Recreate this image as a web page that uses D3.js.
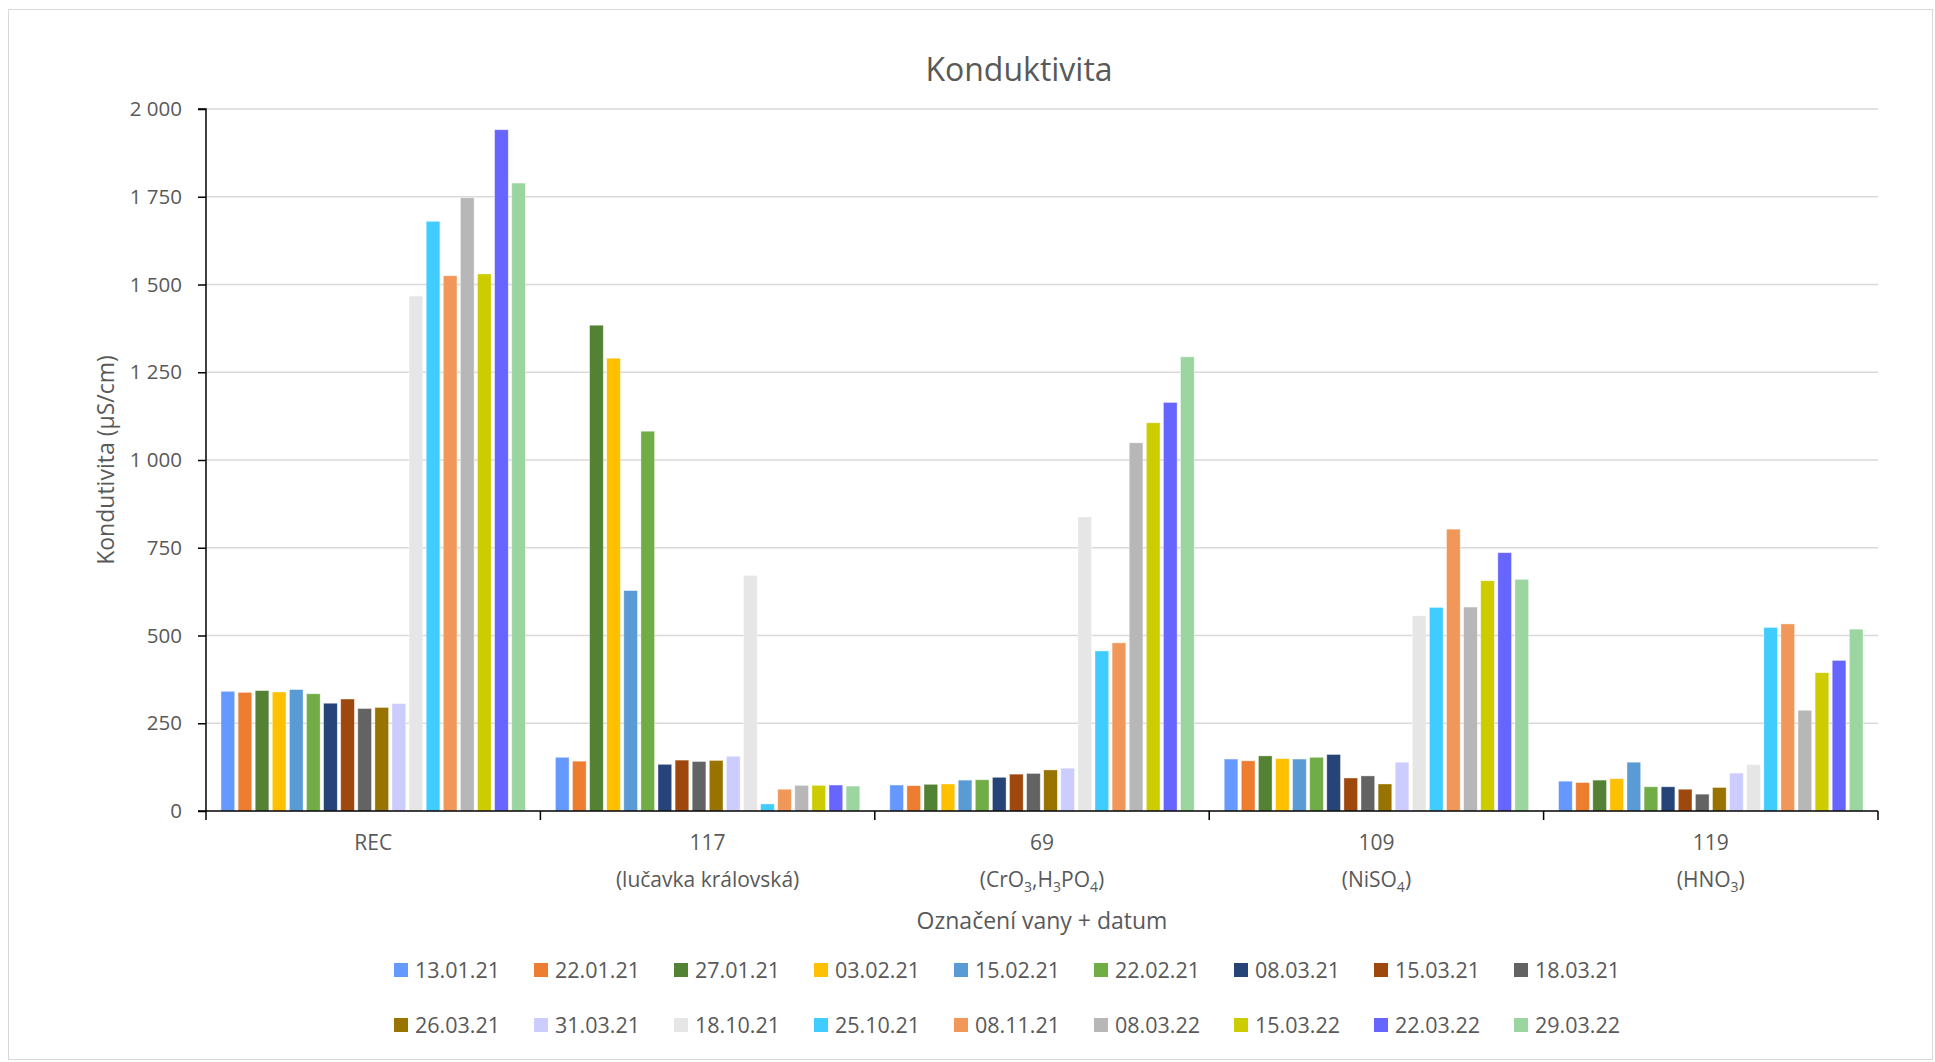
<!DOCTYPE html>
<html>
<head>
<meta charset="utf-8">
<script src="https://cdn.jsdelivr.net/npm/d3@7"></script>
<style>
  html, body { margin: 0; padding: 0; background: #fff; }
  svg { display: block; font-family: "Open Sans", "Noto Sans", sans-serif; }
</style>
</head>
<body>
<svg id="chart" width="1935" height="1062"></svg>
<script>
// ---- data ----
const categories = ["REC", "117", "69", "109", "119"];
const categorySubLabels = ["", "(lučavka královská)", "(CrO_3,H_3PO_4)", "(NiSO_4)", "(HNO_3)"];
const seriesNames = ["13.01.21", "22.01.21", "27.01.21", "03.02.21", "15.02.21", "22.02.21",
  "08.03.21", "15.03.21", "18.03.21", "26.03.21", "31.03.21", "18.10.21",
  "25.10.21", "08.11.21", "08.03.22", "15.03.22", "22.03.22", "29.03.22"];
const seriesColors = ["#6699FF", "#ED7D31", "#548235", "#FFC000", "#5B9BD5", "#70AD47",
  "#264478", "#9E480E", "#636363", "#997300", "#CCCCFF", "#E6E6E6",
  "#40CCFF", "#F1975A", "#B7B7B7", "#CCCC00", "#6666FF", "#9BD6A0"];
// values per category (REC, 117, 69, 109, 119), one array per series order
const valuesREC = [341, 338, 343, 339, 346, 334, 307, 319, 292, 295, 306, 1467, 1680, 1525, 1747, 1530, 1941, 1789];
const values117 = [153, 142, 1384, 1290, 628, 1082, 133, 145, 141, 144, 156, 671, 20, 62, 73, 73, 74, 71];
const values69  = [74, 72, 76, 77, 88, 89, 96, 105, 107, 117, 122, 838, 456, 479, 1049, 1106, 1164, 1294];
const values109 = [148, 143, 157, 149, 148, 153, 161, 94, 100, 77, 139, 556, 580, 803, 581, 656, 736, 660];
const values119 = [85, 81, 88, 92, 139, 69, 69, 62, 48, 67, 108, 132, 523, 533, 287, 394, 429, 518];
const yTicks = [0, 250, 500, 750, 1000, 1250, 1500, 1750, 2000];
const chartTitle = "Konduktivita";
const yTitle = "Kondutivita (µS/cm)";
const xTitle = "Označení vany + datum";

const allValues = [valuesREC, values117, values69, values109, values119];
const table = [];
categories.forEach((c, ci) => {
  seriesNames.forEach((s, si) => table.push({ cat: c, series: s, value: allValues[ci][si] }));
});

// ---- layout ----
const svg = d3.select("#chart");
const textColor = "#595959";
const plotLeft = 206, plotRight = 1878, plotTop = 109, plotBottom = 811;

svg.append("rect").attr("x", 8.5).attr("y", 9.5).attr("width", 1924).attr("height", 1050)
  .attr("fill", "#fff").attr("stroke", "#D9D9D9").attr("stroke-width", 1);

const x0 = d3.scaleBand().domain(categories).range([plotLeft, plotRight]).paddingInner(0).paddingOuter(0);
const inner = d3.scaleBand().domain(seriesNames).range([15, x0.bandwidth() - 15]).paddingInner(0.2).paddingOuter(0);
const y = d3.scaleLinear().domain([0, 2000]).range([plotBottom, plotTop]);
const color = d3.scaleOrdinal().domain(seriesNames).range(seriesColors);

const fmt = d3.formatLocale({ decimal: ",", thousands: " ", grouping: [3], currency: ["", ""] }).format(",");

// gridlines
svg.append("g").selectAll("line").data(yTicks.filter(t => t > 0)).join("line")
  .attr("x1", plotLeft).attr("x2", plotRight)
  .attr("y1", d => y(d)).attr("y2", d => y(d))
  .attr("stroke", "#D9D9D9").attr("stroke-width", 1.5);

// bars
svg.append("g").selectAll("rect").data(table).join("rect")
  .attr("x", d => x0(d.cat) + inner(d.series))
  .attr("width", inner.bandwidth())
  .attr("y", d => y(d.value))
  .attr("height", d => y(0) - y(d.value))
  .attr("fill", d => color(d.series))
  .attr("stroke", "#ffffff").attr("stroke-opacity", 0.5).attr("stroke-width", 0.75);

// y axis
const yAxis = d3.axisLeft(y).tickValues(yTicks).tickFormat(fmt).tickSize(8).tickPadding(16);
const gy = svg.append("g").attr("transform", `translate(${plotLeft},0)`).call(yAxis);
gy.select(".domain").attr("stroke", "#000").attr("stroke-width", 1.5).attr("d", `M-8,${plotTop}H0V${plotBottom}H-8`);
gy.selectAll(".tick line").attr("stroke", "#000").attr("stroke-width", 1.5);
gy.selectAll(".tick text").attr("fill", textColor).attr("font-size", 20.5)
  .attr("font-family", "'Open Sans', sans-serif");

// x axis
const xAxis = d3.axisBottom(x0).tickSize(0).tickFormat("");
const gx = svg.append("g").attr("transform", `translate(0,${plotBottom})`).call(xAxis);
gx.select(".domain").attr("stroke", "#000").attr("stroke-width", 1.5).attr("d", `M${plotLeft},0H${plotRight}`);
gx.selectAll(".tick").remove();
const boundaries = categories.map(c => x0(c)).concat([plotRight]);
gx.selectAll("line.sep").data(boundaries).join("line").attr("class", "sep")
  .attr("x1", d => d).attr("x2", d => d).attr("y1", 0).attr("y2", 9)
  .attr("stroke", "#000").attr("stroke-width", 1.5);

// category labels
const catG = svg.append("g");
categories.forEach((c, i) => {
  const cx = x0(c) + x0.bandwidth() / 2;
  catG.append("text").attr("x", cx).attr("y", 850).attr("text-anchor", "middle")
    .attr("fill", textColor).attr("font-size", 21).text(c);
  const sub = categorySubLabels[i];
  if (sub) {
    const t = catG.append("text").attr("x", cx).attr("y", 887).attr("text-anchor", "middle")
      .attr("fill", textColor).attr("font-size", 21);
    const parts = sub.split(/(_\d)/).filter(p => p.length);
    let pendingDy = 0;
    parts.forEach(p => {
      if (p.startsWith("_")) {
        t.append("tspan").attr("font-size", 14).attr("dy", 5).text(p.slice(1));
        pendingDy = -5;
      } else {
        const ts = t.append("tspan").text(p);
        if (pendingDy) ts.attr("dy", pendingDy);
        pendingDy = 0;
      }
    });
  }
});

// titles
svg.append("text").attr("x", 1019).attr("y", 81).attr("text-anchor", "middle")
  .attr("fill", textColor).attr("font-size", 32).text(chartTitle);
svg.append("text").attr("transform", `translate(114,${(plotTop + plotBottom) / 2}) rotate(-90)`)
  .attr("text-anchor", "middle").attr("fill", textColor).attr("font-size", 23).text(yTitle);
svg.append("text").attr("x", (plotLeft + plotRight) / 2).attr("y", 929).attr("text-anchor", "middle")
  .attr("fill", textColor).attr("font-size", 23).text(xTitle);

// legend
const legendG = svg.append("g");
seriesNames.forEach((s, i) => {
  const row = Math.floor(i / 9), col = i % 9;
  const lx = 394 + col * 140, ly = 970 + row * 55;
  legendG.append("rect").attr("x", lx).attr("y", ly - 7).attr("width", 14).attr("height", 14)
    .attr("fill", color(s));
  legendG.append("text").attr("x", lx + 21).attr("y", ly + 7.5).attr("fill", textColor)
    .attr("font-size", 21.5).text(s);
});
</script>
</body>
</html>
